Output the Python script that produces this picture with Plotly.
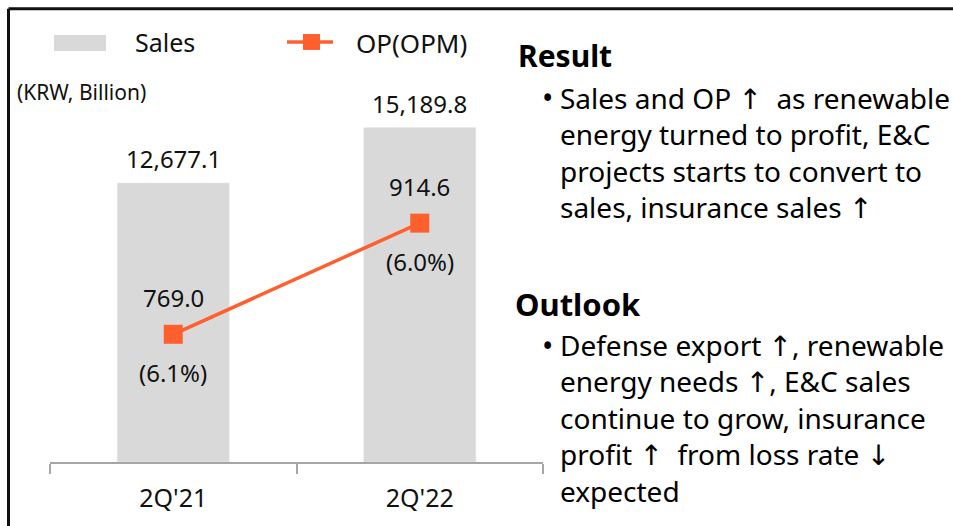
import plotly.graph_objects as go

# ---- data ----
categories = ["2Q'21", "2Q'22"]
sales = [12677.1, 15189.8]
op = [769.0, 914.6]
opm = ["(6.1%)", "(6.0%)"]
sales_labels = ["12,677.1", "15,189.8"]
op_labels = ["769.0", "914.6"]

result_lines = [
    "Sales and OP ↑  as renewable",
    "energy turned to profit, E&C",
    "projects starts to convert to",
    "sales, insurance sales ↑",
]
outlook_lines = [
    "Defense export ↑, renewable",
    "energy needs ↑, E&C sales",
    "continue to grow, insurance",
    "profit ↑  from loss rate ↓",
    "expected",
]

# ---- layout geometry (page pixels) ----
W, H = 953, 526
BASE = 464            # page y of baseline
ML = 50
MT = 40
MB = H - BASE
MR = W - 543
PW, PH = W - ML - MR, H - MT - MB

def px(x):
    return (x - ML) / PW

def py(y):
    return (BASE - y) / PH

FONT = "Noto Sans, DejaVu Sans, sans-serif"
BAR_C = "#D9D9D9"
LINE_C = "#FF5F2D"
AX_C = "#A6A6A6"

fig = go.Figure()
fig.add_trace(go.Bar(x=categories, y=sales, marker_color=BAR_C, name="Sales",
                     showlegend=False, hoverinfo="skip"))
fig.add_trace(go.Scatter(x=categories, y=op, yaxis="y2", mode="lines+markers",
                         line=dict(color=LINE_C, width=3.5),
                         marker=dict(symbol="square", size=19, color=LINE_C),
                         name="OP(OPM)", showlegend=False, hoverinfo="skip"))

ann = []
for c, v, t in zip(categories, sales, sales_labels):
    ann.append(dict(x=c, y=v, xref="x", yref="y", text=t, showarrow=False,
                    yanchor="middle", yshift=24, font=dict(size=24, color="#111")))
for c, v, t, m in zip(categories, op, op_labels, opm):
    ann.append(dict(x=c, y=v, xref="x", yref="y2", text=t, showarrow=False,
                    yanchor="middle", yshift=37, font=dict(size=24, color="#111")))
    ann.append(dict(x=c, y=v, xref="x", yref="y2", text=m, showarrow=False,
                    yanchor="middle", yshift=-38, font=dict(size=24, color="#111")))

# legend (manual)
ann.append(dict(x=px(133), y=py(42), xref="paper", yref="paper", text="Sales",
                showarrow=False, xanchor="left", yanchor="middle",
                font=dict(size=25, color="#111")))
ann.append(dict(x=px(354), y=py(43), xref="paper", yref="paper", text="OP(OPM)",
                showarrow=False, xanchor="left", yanchor="middle",
                font=dict(size=26, color="#111")))
ann.append(dict(x=px(15), y=py(92), xref="paper", yref="paper", text="(KRW, Billion)",
                showarrow=False, xanchor="left", yanchor="middle",
                font=dict(size=21, color="#111")))

# right-side text
ann.append(dict(x=px(516), y=py(56), xref="paper", yref="paper", text="<b>Result</b>",
                showarrow=False, xanchor="left", yanchor="middle",
                font=dict(size=30, color="#000")))
ann.append(dict(x=px(513), y=py(305), xref="paper", yref="paper", text="<b>Outlook</b>",
                showarrow=False, xanchor="left", yanchor="middle",
                font=dict(size=31, color="#000")))

def block(lines, y_first, y_last, y_bullet):
    ann.append(dict(x=px(540), y=py(y_bullet), xref="paper", yref="paper", text="•",
                    showarrow=False, xanchor="left", yanchor="middle",
                    font=dict(size=30, color="#000")))
    ann.append(dict(x=px(558), y=py((y_first + y_last) / 2), xref="paper",
                    yref="paper", text="<br>".join(lines), showarrow=False,
                    xanchor="left", yanchor="middle", align="left",
                    font=dict(size=28, color="#000")))

block(result_lines, 101, 206, 98)
block(outlook_lines, 350, 490, 347)

shapes = [
    dict(type="rect", xref="paper", yref="paper", x0=px(54), x1=px(106),
         y0=py(51), y1=py(35), fillcolor=BAR_C, line=dict(width=0)),
    dict(type="line", xref="paper", yref="paper", x0=px(287), x1=px(333),
         y0=py(42), y1=py(42), line=dict(color=LINE_C, width=3.5)),
    dict(type="rect", xref="paper", yref="paper", x0=px(303), x1=px(320),
         y0=py(50), y1=py(34), fillcolor=LINE_C, line=dict(width=0)),
    # frame
    dict(type="line", xref="paper", yref="paper", x0=px(8.5), x1=px(990),
         y0=py(8.5), y1=py(8.5), line=dict(color="#111", width=3)),
    dict(type="line", xref="paper", yref="paper", x0=px(8.5), x1=px(8.5),
         y0=py(8.5), y1=py(560), line=dict(color="#111", width=3)),
]

fig.update_layout(
    width=W, height=H,
    margin=dict(l=ML, r=MR, t=MT, b=MB),
    paper_bgcolor="white", plot_bgcolor="white",
    font=dict(family=FONT, color="#111"),
    bargap=0.545,
    showlegend=False,
    xaxis=dict(type="category", range=[-0.5, 1.5], showline=True, linecolor=AX_C,
               linewidth=1.5, ticks="outside", tickson="boundaries", ticklen=10,
               tickcolor=AX_C, tickwidth=1.5, tickfont=dict(size=25, color="#111"),
               ticklabelstandoff=13, showgrid=False, zeroline=False),
    yaxis=dict(range=[0, 19170], visible=False, showgrid=False, zeroline=False),
    yaxis2=dict(range=[601.7, 1154.5], overlaying="y", visible=False,
                showgrid=False, zeroline=False),
    annotations=ann,
    shapes=shapes,
)

fig.write_html(
    "out.html",
    config={"displayModeBar": False},
    post_script="document.body.style.margin='0';document.body.style.overflow='hidden';",
)
